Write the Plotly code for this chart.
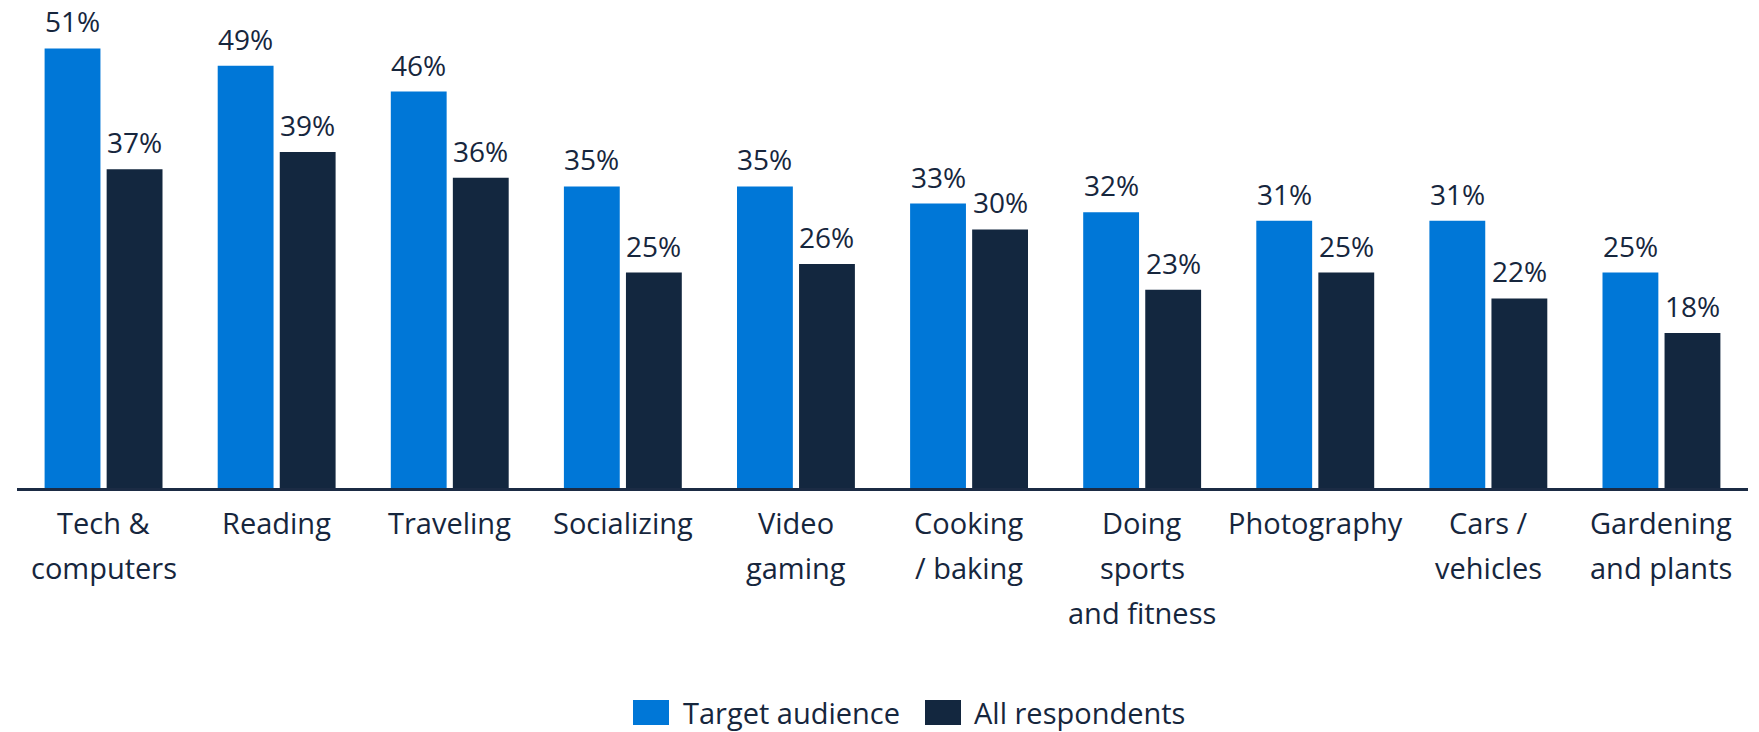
import plotly.graph_objects as go

# Interest categories (line breaks follow the printed axis labels)
categories = [
    ["Tech &", "computers"],
    ["Reading"],
    ["Traveling"],
    ["Socializing"],
    ["Video", "gaming"],
    ["Cooking", "/ baking"],
    ["Doing", "sports", "and fitness"],
    ["Photography"],
    ["Cars /", "vehicles"],
    ["Gardening", "and plants"],
]
cat_keys = [" ".join(c) for c in categories]

target_audience = [51, 49, 46, 35, 35, 33, 32, 31, 31, 25]
all_respondents = [37, 39, 36, 25, 26, 30, 23, 25, 22, 18]

series_names = ["Target audience", "All respondents"]
BLUE = "#0077D7"
NAVY = "#13273F"
TEXT = "#16263D"
FONT = "Open Sans"

W, H = 1759, 732
ML, MR, MT, MB = 17, 11, 8, 244
PLOT_W = W - ML - MR
PLOT_H = H - MT - MB
Y_MAX = 55.7
BARGAP = 0.283

fig = go.Figure()
annotations = []
series = [
    (series_names[0], target_audience, BLUE, -1),
    (series_names[1], all_respondents, NAVY, 1),
]
for name, vals, color, side in series:
    fig.add_trace(go.Bar(
        x=list(range(len(cat_keys))),
        y=vals,
        name=name,
        marker=dict(color=color, line=dict(width=0)),
        showlegend=False,
    ))
    # value labels centred over each bar of the group
    offset = side * (1 - BARGAP) / 4
    for i, v in enumerate(vals):
        annotations.append(dict(
            x=i + offset, y=v, xref="x", yref="y",
            text=f"{v}%", showarrow=False,
            xanchor="center", yanchor="bottom", yshift=6,
            font=dict(family=FONT, size=28, color=TEXT),
        ))

# Category labels, one annotation per text line for wider line spacing
LINE_STEP = 45
for i, lines in enumerate(categories):
    for j, line in enumerate(lines):
        annotations.append(dict(
            x=i, y=0, xref="x", yref="y",
            text=line, showarrow=False,
            yanchor="top", xanchor="center",
            yshift=-13 - j * LINE_STEP,
            font=dict(family=FONT, size=29, color=TEXT),
        ))


def px_x(px):
    return (px - ML) / PLOT_W


def px_y(py):
    return (H - MB - py) / PLOT_H


# Custom legend: swatch rectangles with text beside them
shapes = []
legend_items = [
    (series_names[0], BLUE, 633, 669, 681),
    (series_names[1], NAVY, 925, 961, 972),
]
for name, color, x0, x1, tx in legend_items:
    shapes.append(dict(
        type="rect", xref="paper", yref="paper",
        x0=px_x(x0), x1=px_x(x1), y0=px_y(725), y1=px_y(700),
        fillcolor=color, line=dict(width=0),
    ))
    annotations.append(dict(
        x=px_x(tx), y=px_y(712.5), xref="paper", yref="paper",
        text=name, showarrow=False,
        xanchor="left", yanchor="middle",
        font=dict(family=FONT, size=29, color=TEXT),
    ))

fig.update_layout(
    width=W, height=H,
    margin=dict(l=ML, r=MR, t=MT, b=MB),
    paper_bgcolor="white",
    plot_bgcolor="white",
    barmode="group",
    bargap=BARGAP,
    bargroupgap=0.1,
    font=dict(family=FONT, color=TEXT),
    showlegend=False,
    annotations=annotations,
    shapes=shapes,
)
fig.update_xaxes(
    range=[-0.5, len(cat_keys) - 0.5],
    showticklabels=False,
    showline=True, linecolor="#1B2B44", linewidth=3,
    showgrid=False, ticks="", zeroline=False,
)
fig.update_yaxes(
    range=[0, Y_MAX], visible=False, showgrid=False, zeroline=False,
)

fig.write_html("out.html")
